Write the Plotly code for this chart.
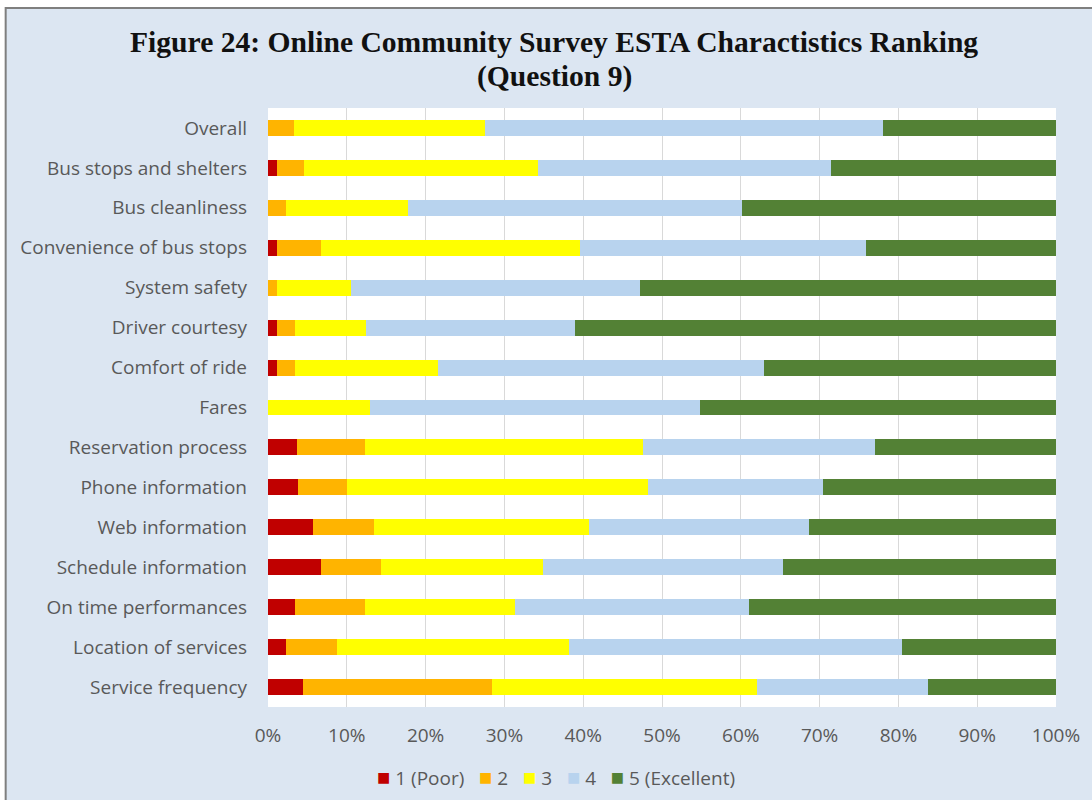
import plotly.graph_objects as go

# Survey characteristics, listed top to bottom
categories = [
    "Overall",
    "Bus stops and shelters",
    "Bus cleanliness",
    "Convenience of bus stops",
    "System safety",
    "Driver courtesy",
    "Comfort of ride",
    "Fares",
    "Reservation process",
    "Phone information",
    "Web information",
    "Schedule information",
    "On time performances",
    "Location of services",
    "Service frequency",
]

# Share of responses (%) per rating
rating_1 = [0.0, 1.2, 0.0, 1.2, 0.0, 1.2, 1.2, 0.0, 3.7, 3.8, 5.7, 6.7, 3.4, 2.3, 4.4]
rating_2 = [3.3, 3.4, 2.3, 5.5, 1.1, 2.2, 2.2, 0.0, 8.6, 6.2, 7.8, 7.6, 8.9, 6.5, 24.0]
rating_3 = [24.2, 29.6, 15.5, 32.9, 9.4, 9.0, 18.2, 12.9, 35.3, 38.2, 27.2, 20.6, 19.0, 29.4, 33.7]
rating_4 = [50.6, 37.3, 42.3, 36.3, 36.7, 26.6, 41.4, 41.9, 29.4, 22.2, 28.0, 30.5, 29.8, 42.3, 21.7]
rating_5 = [21.9, 28.5, 39.9, 24.1, 52.8, 61.0, 37.0, 45.2, 23.0, 29.6, 31.3, 34.6, 38.9, 19.5, 16.2]

series_names = ["1 (Poor)", "2", "3", "4", "5 (Excellent)"]
series_values = [rating_1, rating_2, rating_3, rating_4, rating_5]
series_colors = ["#C00000", "#FFB400", "#FFFF00", "#B8D3EE", "#538135"]

tick_values = [0, 10, 20, 30, 40, 50, 60, 70, 80, 90, 100]
tick_labels = ["0%", "10%", "20%", "30%", "40%", "50%", "60%", "70%", "80%", "90%", "100%"]

title_lines = ["Figure 24: Online Community Survey ESTA Charactistics Ranking", "(Question 9)"]

fig = go.Figure()
for name, vals, color in zip(series_names, series_values, series_colors):
    fig.add_trace(go.Bar(
        name=name,
        y=categories,
        x=vals,
        orientation="h",
        marker=dict(color=color, line=dict(width=0)),
        showlegend=False,
    ))

font_family = "'Open Sans', Lato, sans-serif"
label_grey = "#595959"
title_font = dict(family="'Liberation Serif', 'DejaVu Serif', serif", size=29.6, color="#111111")

# Plot area spans 790 px horizontally and 599 px vertically
PW, PH = 790, 599

def px_x(x):
    return (x - 268) / PW

def px_y(y):
    return (707 - y) / PH

# Compact legend row: coloured square followed by the series name
legend_html = "&nbsp;&nbsp;&nbsp;".join(
    f"<span style='color:{c};font-size:22px'>■</span>&nbsp;{n}"
    for n, c in zip(series_names, series_colors)
)

annotations = [
    dict(
        text=f"<b>{line}</b>",
        xref="paper", yref="paper",
        x=px_x(555), y=px_y(yc),
        xanchor="center", yanchor="middle",
        showarrow=False,
        font=title_font,
    )
    for line, yc in zip(title_lines, [42, 76])
]
annotations.append(
    dict(
        text=legend_html,
        xref="paper", yref="paper",
        x=px_x(557), y=px_y(776),
        xanchor="center", yanchor="middle",
        showarrow=False,
        font=dict(family=font_family, size=19, color=label_grey),
    )
)

fig.update_layout(
    width=1092,
    height=800,
    barmode="stack",
    bargap=0.6,
    paper_bgcolor="#FFFFFF",
    plot_bgcolor="#FFFFFF",
    margin=dict(l=268, r=34, t=108, b=93),
    font=dict(family=font_family, size=19, color=label_grey),
    showlegend=False,
    xaxis=dict(
        range=[0, 100],
        tickvals=tick_values,
        ticktext=tick_labels,
        showgrid=True,
        gridcolor="#D9D9D9",
        gridwidth=1,
        zeroline=False,
        showline=False,
        ticks="",
        ticklabelstandoff=15,
        tickfont=dict(family=font_family, size=19, color=label_grey),
        fixedrange=True,
    ),
    yaxis=dict(
        autorange="reversed",
        showgrid=False,
        zeroline=False,
        showline=False,
        ticks="",
        ticklabelstandoff=20,
        tickfont=dict(family=font_family, size=19, color=label_grey),
        fixedrange=True,
    ),
    annotations=annotations,
    shapes=[
        # light blue chart frame behind everything
        dict(
            type="rect",
            xref="paper", yref="paper",
            x0=px_x(5), x1=1.06,
            y0=-0.2, y1=px_y(8),
            fillcolor="#DCE6F2",
            line=dict(color="#7F7F7F", width=2),
            layer="below",
        ),
        # white plotting panel
        dict(
            type="rect",
            xref="paper", yref="paper",
            x0=0, x1=1, y0=0, y1=1,
            fillcolor="#FFFFFF",
            line=dict(width=0),
            layer="below",
        ),
    ],
)

fig.write_html("out.html")
